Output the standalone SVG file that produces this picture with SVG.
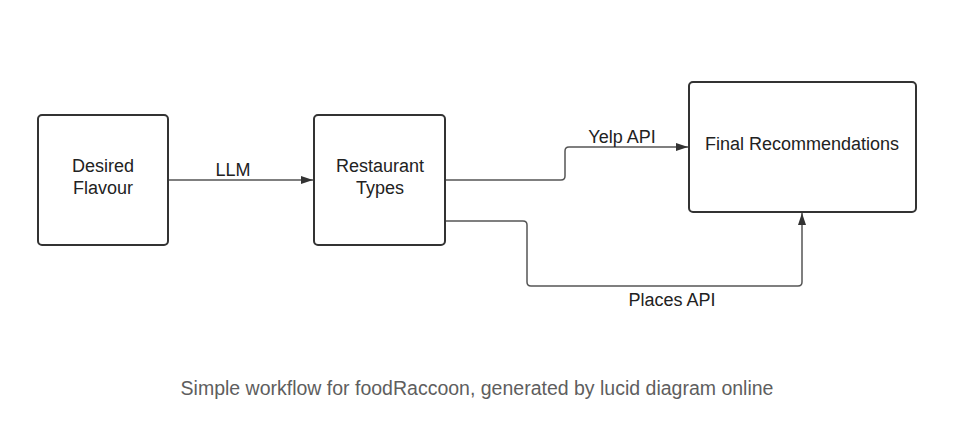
<svg xmlns="http://www.w3.org/2000/svg" width="954" height="427" viewBox="0 0 954 427">
<defs>
<marker id="ah" markerWidth="12" markerHeight="8" refX="12" refY="4" orient="auto" markerUnits="userSpaceOnUse">
<path d="M0,0 L12,4 L0,8 Z" fill="#333"/>
</marker>
<style>
.box{fill:#fff;stroke:#333;stroke-width:2}
.lbl{font-family:"Liberation Sans",Arial,sans-serif;font-size:18px;fill:#222;text-anchor:middle}
.con{fill:none;stroke:#555;stroke-width:1.5;marker-end:url(#ah)}
.cap{font-family:"Liberation Sans",Arial,sans-serif;font-size:19.5px;fill:#5e5e5e;text-anchor:middle}
</style>
</defs>
<rect width="954" height="427" fill="#fff"/>
<g id="connectors">
<path class="con" d="M168,180 L313,180"/>
<path class="con" d="M445,180 L561,180 Q565,180 565,176 L565,151 Q565,147 569,147 L688,147"/>
<path class="con" d="M445,221 L523,221 Q527,221 527,225 L527,282 Q527,286 531,286 L798,286 Q802,286 802,282 L802,213"/>
</g>
<g id="desired-flavour">
<rect class="box" x="38" y="115" width="130" height="130" rx="4"/>
<text class="lbl" x="103" y="172">Desired</text>
<text class="lbl" x="103" y="194">Flavour</text>
</g>
<g id="restaurant-types">
<rect class="box" x="314" y="115" width="131" height="130" rx="4"/>
<text class="lbl" x="380" y="172">Restaurant</text>
<text class="lbl" x="380" y="194">Types</text>
</g>
<g id="final-recommendations">
<rect class="box" x="689" y="82" width="227" height="130" rx="4"/>
<text class="lbl" x="802" y="150">Final Recommendations</text>
</g>
<g id="labels">
<text class="lbl" x="233" y="176">LLM</text>
<text class="lbl" x="622" y="143">Yelp API</text>
<text class="lbl" x="672" y="306">Places API</text>
</g>
<text class="cap" x="477" y="395">Simple workflow for foodRaccoon, generated by lucid diagram online</text>
</svg>
